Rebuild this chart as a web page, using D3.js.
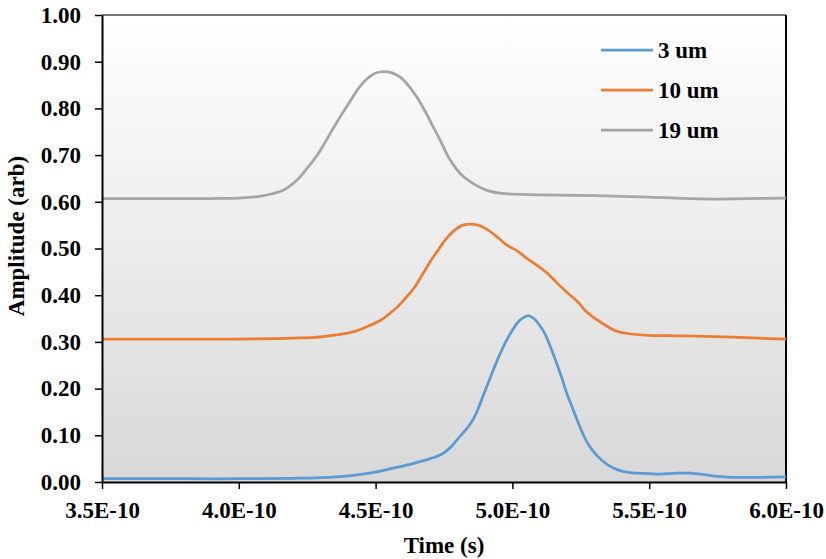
<!DOCTYPE html>
<html>
<head>
<meta charset="utf-8">
<script src="https://cdn.jsdelivr.net/npm/d3@7"></script>
<style>
  html, body { margin: 0; padding: 0; background: #ffffff; }
  svg { display: block; }
  text { font-family: "Liberation Serif", "Times New Roman", serif; font-weight: bold; fill: #000; }
</style>
</head>
<body>
<svg id="chart" width="826" height="559"></svg>
<script>
// Pulse amplitude versus time for three thicknesses (values offset per trace)
const seriesNames = ["3 um", "10 um", "19 um"];
const seriesColors = ["#5b9bd5", "#ed7d31", "#a5a5a5"];

// time in units of 1e-10 s
const t3 = [3.50, 3.80, 4.00, 4.20, 4.33, 4.42, 4.50, 4.56, 4.64, 4.70, 4.74, 4.77, 4.80, 4.83, 4.85, 4.87,
            4.89, 4.92, 4.95, 4.98, 5.00, 5.02, 5.04, 5.06, 5.08, 5.10, 5.12, 5.14, 5.16, 5.18, 5.20, 5.22,
            5.24, 5.26, 5.28, 5.31, 5.35, 5.39, 5.43, 5.50, 5.54, 5.60, 5.65, 5.70, 5.75, 5.80, 5.90, 6.00];
const a3 = [0.007, 0.007, 0.007, 0.008, 0.010, 0.014, 0.021, 0.029, 0.040, 0.050, 0.059, 0.072, 0.092, 0.112, 0.128, 0.150,
            0.180, 0.225, 0.268, 0.305, 0.325, 0.342, 0.352, 0.356, 0.349, 0.335, 0.316, 0.288, 0.257, 0.224, 0.188, 0.158,
            0.128, 0.100, 0.078, 0.056, 0.036, 0.025, 0.020, 0.018, 0.017, 0.019, 0.019, 0.016, 0.012, 0.010, 0.010, 0.011];

const t10 = [3.50, 3.80, 4.00, 4.20, 4.30, 4.42, 4.47, 4.52, 4.55, 4.58, 4.61, 4.64, 4.67, 4.70, 4.73, 4.76,
             4.79, 4.82, 4.85, 4.88, 4.91, 4.95, 4.98, 5.02, 5.05, 5.09, 5.13, 5.16, 5.20, 5.24, 5.27, 5.31,
             5.35, 5.38, 5.42, 5.50, 5.60, 5.70, 5.80, 5.90, 6.00];
const a10 = [0.306, 0.306, 0.306, 0.308, 0.311, 0.322, 0.333, 0.347, 0.360, 0.375, 0.394, 0.415, 0.443, 0.472, 0.498, 0.522,
             0.540, 0.550, 0.552, 0.549, 0.540, 0.522, 0.507, 0.494, 0.480, 0.464, 0.446, 0.428, 0.406, 0.385, 0.365, 0.347,
             0.332, 0.323, 0.318, 0.314, 0.313, 0.312, 0.310, 0.308, 0.306];

const t19 = [3.50, 3.70, 3.90, 4.00, 4.08, 4.16, 4.21, 4.25, 4.29, 4.32, 4.36, 4.41, 4.44, 4.47, 4.50, 4.53,
             4.56, 4.59, 4.62, 4.65, 4.68, 4.71, 4.74, 4.77, 4.81, 4.86, 4.91, 4.96, 5.10, 5.30, 5.50, 5.70,
             5.85, 6.00];
const a19 = [0.607, 0.607, 0.607, 0.608, 0.612, 0.624, 0.645, 0.672, 0.703, 0.732, 0.772, 0.818, 0.845, 0.864, 0.876, 0.879,
             0.876, 0.867, 0.849, 0.825, 0.795, 0.761, 0.727, 0.692, 0.660, 0.638, 0.624, 0.618, 0.615, 0.613, 0.610, 0.606,
             0.607, 0.608];

const xTicks = [3.5e-10, 4.0e-10, 4.5e-10, 5.0e-10, 5.5e-10, 6.0e-10];
const yTicks = [0, 0.1, 0.2, 0.3, 0.4, 0.5, 0.6, 0.7, 0.8, 0.9, 1.0];

const series = [
  { name: seriesNames[0], color: seriesColors[0], t: t3, a: a3 },
  { name: seriesNames[1], color: seriesColors[1], t: t10, a: a10 },
  { name: seriesNames[2], color: seriesColors[2], t: t19, a: a19 }
];

const svg = d3.select("#chart");
const plot = { left: 102, top: 15, right: 786, bottom: 482 };

const x = d3.scaleLinear().domain([3.5e-10, 6.0e-10]).range([plot.left, plot.right]);
const y = d3.scaleLinear().domain([0, 1]).range([plot.bottom, plot.top]);

// plot-area background: white fading to light grey
const defs = svg.append("defs");
const grad = defs.append("linearGradient").attr("id", "plotBg")
  .attr("x1", 0).attr("y1", 0).attr("x2", 0).attr("y2", 1);
grad.append("stop").attr("offset", "0%").attr("stop-color", "#ffffff");
grad.append("stop").attr("offset", "100%").attr("stop-color", "#d8d8d8");

svg.append("rect")
  .attr("x", plot.left).attr("y", plot.top)
  .attr("width", plot.right - plot.left).attr("height", plot.bottom - plot.top)
  .attr("fill", "url(#plotBg)");

// top and right frame
svg.append("line").attr("x1", plot.left).attr("x2", plot.right)
  .attr("y1", plot.top).attr("y2", plot.top)
  .attr("stroke", "#4a4a4a").attr("stroke-width", 1.5);
svg.append("line").attr("x1", plot.right).attr("x2", plot.right)
  .attr("y1", plot.top).attr("y2", plot.bottom)
  .attr("stroke", "#000").attr("stroke-width", 2);

// traces
const line = d3.line()
  .x(d => x(d[0] * 1e-10))
  .y(d => y(d[1]))
  .curve(d3.curveCatmullRom.alpha(0.5));

svg.append("g").selectAll("path")
  .data(series)
  .join("path")
  .attr("d", s => line(d3.zip(s.t, s.a)))
  .attr("fill", "none")
  .attr("stroke", s => s.color)
  .attr("stroke-width", 2.75)
  .attr("stroke-linejoin", "round");

// axes
const xAxis = d3.axisBottom(x)
  .tickValues(xTicks)
  .tickFormat(v => v.toExponential(1).toUpperCase())
  .tickSize(7).tickSizeOuter(0).tickPadding(13);
const yAxis = d3.axisLeft(y)
  .tickValues(yTicks)
  .tickFormat(d3.format(".2f"))
  .tickSize(7).tickSizeOuter(0).tickPadding(14);

const gx = svg.append("g").attr("transform", `translate(0,${plot.bottom})`).call(xAxis);
const gy = svg.append("g").attr("transform", `translate(${plot.left},0)`).call(yAxis);

[gx, gy].forEach(g => {
  g.attr("font-family", null).attr("font-size", null);
  g.select(".domain").attr("stroke", "#000").attr("stroke-width", 2);
  g.selectAll(".tick line").attr("stroke", "#000").attr("stroke-width", 1.5);
  g.selectAll(".tick text")
    .attr("font-family", "'Liberation Serif', 'Times New Roman', serif")
    .attr("font-weight", "bold")
    .attr("font-size", 23)
    .attr("fill", "#000");
});

// axis titles
svg.append("text")
  .attr("x", (plot.left + plot.right) / 2).attr("y", 553)
  .attr("text-anchor", "middle").attr("font-size", 23)
  .text("Time (s)");

svg.append("text")
  .attr("transform", "translate(24,236) rotate(-90)")
  .attr("text-anchor", "middle").attr("font-size", 23)
  .text("Amplitude (arb)");

// legend
const legend = svg.append("g").selectAll("g")
  .data(series)
  .join("g")
  .attr("transform", (d, i) => `translate(601,${50 + i * 40})`);
legend.append("line")
  .attr("x1", 0).attr("x2", 52).attr("y1", 0).attr("y2", 0)
  .attr("stroke", d => d.color).attr("stroke-width", 2.75);
legend.append("text")
  .attr("x", 57).attr("y", 0).attr("dy", "0.34em")
  .attr("font-size", 23)
  .text(d => d.name);
</script>
</body>
</html>
